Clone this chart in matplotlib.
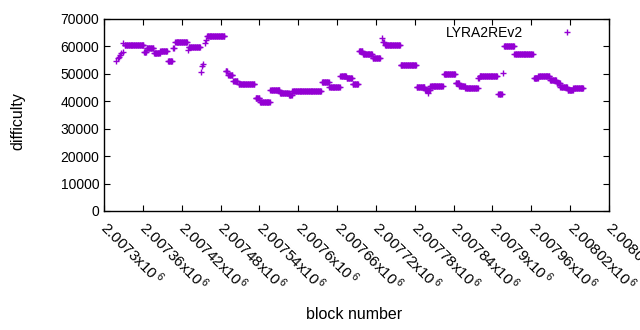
import numpy as np
import matplotlib
matplotlib.use("Agg")
import matplotlib.pyplot as plt

plt.rcParams['font.family'] = ['Liberation Sans', 'DejaVu Sans']
plt.rcParams['mathtext.default'] = 'regular'

# runs of blocks with the same difficulty (first block, last block, difficulty)
run_start = [2007318, 2007321, 2007323, 2007325, 2007327, 2007329, 2007330, 2007332,
             2007362, 2007366, 2007377, 2007387, 2007399, 2007407, 2007410, 2007429,
             2007431, 2007450, 2007452, 2007453, 2007456, 2007457, 2007459, 2007488,
             2007492, 2007500, 2007508, 2007534, 2007541, 2007557, 2007572, 2007586,
             2007591, 2007637, 2007648, 2007665, 2007675, 2007684, 2007694, 2007700,
             2007715, 2007729, 2007731, 2007734, 2007758, 2007783, 2007796, 2007800,
             2007804, 2007825, 2007843, 2007849, 2007858, 2007878, 2007880, 2007909,
             2007916, 2007918, 2007934, 2007964, 2007971, 2007989, 2007999, 2008005,
             2008016, 2008025]
run_end = [2007318, 2007321, 2007323, 2007325, 2007327, 2007329, 2007330, 2007361,
           2007365, 2007376, 2007386, 2007397, 2007405, 2007408, 2007428, 2007429,
           2007448, 2007450, 2007452, 2007453, 2007456, 2007457, 2007486, 2007490,
           2007498, 2007506, 2007532, 2007540, 2007556, 2007571, 2007585, 2007590,
           2007635, 2007647, 2007664, 2007674, 2007683, 2007692, 2007699, 2007714,
           2007726, 2007729, 2007732, 2007757, 2007782, 2007795, 2007803, 2007800,
           2007823, 2007842, 2007848, 2007857, 2007877, 2007879, 2007907, 2007914,
           2007916, 2007933, 2007962, 2007970, 2007988, 2007998, 2008004, 2008015,
           2008024, 2008040]
run_diff = [54700, 55600, 56300, 56900, 57500, 58100, 61100, 60400,
            58100, 59300, 57500, 58300, 54700, 59300, 61500, 58700,
            59700, 50800, 53000, 53600, 61100, 62300, 63800, 51200,
            49600, 47400, 46200, 41100, 39900, 44100, 42900, 42300,
            43600, 46900, 45300, 49300, 48400, 46200, 58300, 57100,
            55700, 63000, 61500, 60500, 53200, 45100, 44100, 43200,
            45700, 49800, 46500, 45400, 44700, 48400, 49200, 42700,
            50200, 60200, 57100, 48500, 49200, 47800, 46500, 45300,
            44100, 45000]

tick_blocks = [2007300, 2007360, 2007420, 2007480, 2007540, 2007600, 2007660,
               2007720, 2007780, 2007840, 2007900, 2007960, 2008020, 2008080]
tick_labels = ['2.0073', '2.00736', '2.00742', '2.00748', '2.00754', '2.0076',
               '2.00766', '2.00772', '2.00778', '2.00784', '2.0079', '2.00796',
               '2.00802', '2.00808']

blocks = []
diffs = []
for s, e, d in zip(run_start, run_end, run_diff):
    for b in range(s, e + 1):
        blocks.append(b)
        diffs.append(d)

fig = plt.figure(figsize=(6.4, 3.3), dpi=100)
ax = fig.add_axes([104 / 640, 1 - 211 / 330, 505 / 640, 192 / 330])

ax.plot(blocks, diffs, linestyle='none', marker='+', color='#9400D3',
        markersize=5, markeredgewidth=1.0, label='LYRA2REv2')

ax.set_xlim(2007300, 2008080)
ax.set_ylim(0, 70000)
ax.set_yticks(np.arange(0, 70001, 10000))
ax.set_xticks(tick_blocks)
ax.set_xticklabels([t + r'x10$^{\,6}$' for t in tick_labels], rotation=-45,
                   ha='left', va='center', rotation_mode='anchor', fontsize=11)
ax.tick_params(direction='in', length=4, top=True, right=True, labelsize=10,
               width=0.8)
ax.tick_params(axis='x', pad=10, labelsize=11)
for sp in ax.spines.values():
    sp.set_linewidth(1.0)

ax.set_xlabel('block number', fontsize=11.5)
ax.set_ylabel('difficulty', fontsize=11.5)
ax.xaxis.set_label_coords(0.496, -0.5)
ax.yaxis.set_label_coords(-0.155, 0.47)

ax.legend(loc='upper right', bbox_to_anchor=(0.972, 0.962), frameon=False,
          markerfirst=False, handlelength=4, handletextpad=1.2, borderpad=0,
          borderaxespad=0, fontsize=10)

fig.savefig('out.png', dpi=100)
